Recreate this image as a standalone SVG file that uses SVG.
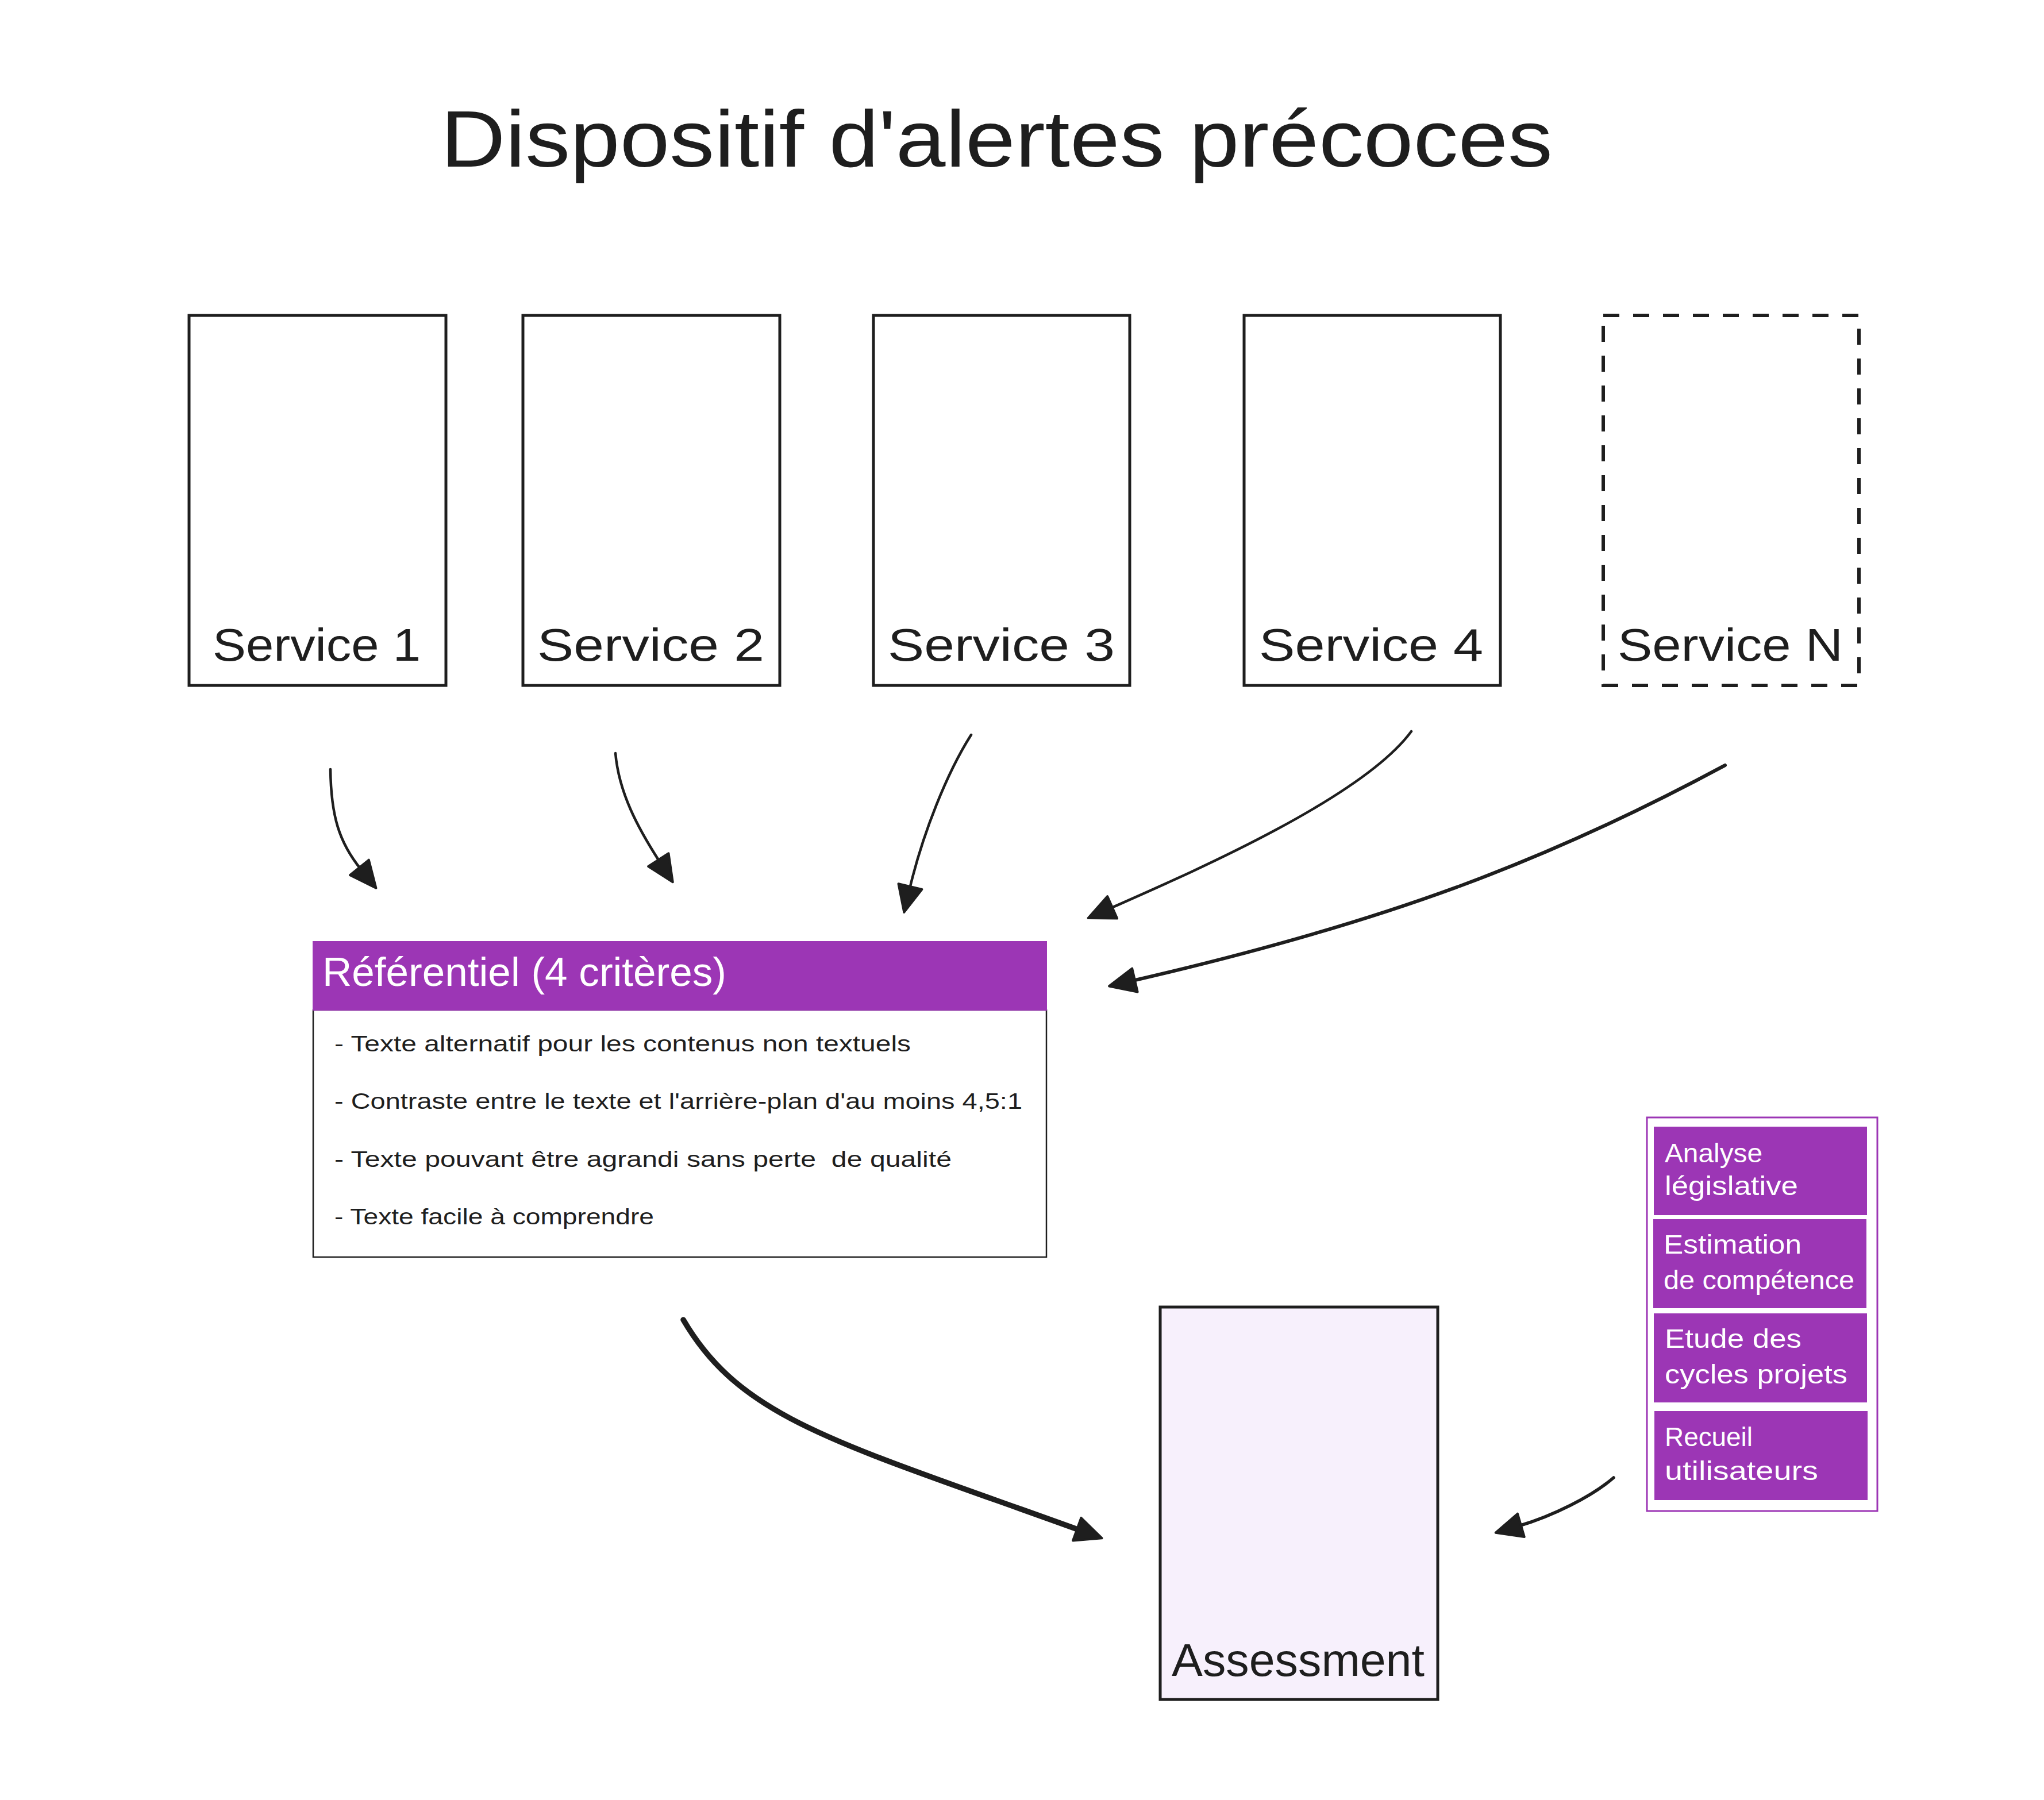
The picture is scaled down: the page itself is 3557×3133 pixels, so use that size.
<svg xmlns="http://www.w3.org/2000/svg" width="3557" height="3133" viewBox="0 0 3557 3133">
<style>
  text { font-family: "Liberation Sans", "DejaVu Sans", sans-serif; }
  .title { font-size: 140px; fill: #1e1e1e; }
  .svc { fill: #ffffff; stroke: #1e1e1e; stroke-width: 5; }
  .svc-dash { fill: #ffffff; stroke: #1e1e1e; stroke-width: 6; stroke-dasharray: 28 24; }
  .svc-label { font-size: 80px; fill: #1e1e1e; }
  .hdr { fill: #9c36b5; }
  .hdr-text { font-size: 70px; fill: #ffffff; }
  .body { fill: #ffffff; stroke: #1e1e1e; stroke-width: 2.5; }
  .item { font-size: 38px; fill: #1e1e1e; }
  .panel { fill: #ffffff; stroke: #9c36b5; stroke-width: 3; }
  .chip { fill: #9c36b5; stroke: #9c36b5; stroke-width: 2; }
  .chip-text { font-size: 47px; fill: #ffffff; }
  .assess { fill: #f7f0fc; stroke: #1e1e1e; stroke-width: 5; }
  .assess-label { font-size: 80px; fill: #1e1e1e; }
  .conn { fill: none; stroke: #1e1e1e; stroke-linecap: round; marker-end: url(#head); }
</style>
<defs>
  <marker id="head" markerUnits="userSpaceOnUse" viewBox="-4 -4 54 50" markerWidth="54" markerHeight="50" refX="4" refY="21" orient="auto">
    <path d="M0,0 L46,21 L0,42 Z" fill="#1e1e1e" stroke="#1e1e1e" stroke-width="4" stroke-linejoin="round"/>
  </marker>
</defs>
<rect x="0" y="0" width="3557" height="3133" fill="#ffffff"/>

<g id="title">
  <text class="title" x="767" y="290" textLength="1935" lengthAdjust="spacingAndGlyphs">Dispositif d'alertes précoces</text>
</g>

<g id="service-1">
  <rect class="svc" x="329" y="549" width="447" height="644"/>
  <text class="svc-label" x="370" y="1150" textLength="362" lengthAdjust="spacingAndGlyphs">Service 1</text>
</g>
<g id="service-2">
  <rect class="svc" x="910" y="549" width="447" height="644"/>
  <text class="svc-label" x="935" y="1150" textLength="395" lengthAdjust="spacingAndGlyphs">Service 2</text>
</g>
<g id="service-3">
  <rect class="svc" x="1520" y="549" width="446" height="644"/>
  <text class="svc-label" x="1545" y="1150" textLength="395" lengthAdjust="spacingAndGlyphs">Service 3</text>
</g>
<g id="service-4">
  <rect class="svc" x="2165" y="549" width="446" height="644"/>
  <text class="svc-label" x="2191" y="1150" textLength="390" lengthAdjust="spacingAndGlyphs">Service 4</text>
</g>
<g id="service-n">
  <rect class="svc-dash" x="2790" y="549" width="445" height="644"/>
  <text class="svc-label" x="2815" y="1150" textLength="392" lengthAdjust="spacingAndGlyphs">Service N</text>
</g>

<g id="referentiel">
  <rect class="body" x="545" y="1758" width="1276" height="430"/>
  <rect class="hdr" x="544" y="1638" width="1278" height="121"/>
  <text class="hdr-text" x="561" y="1716" textLength="703" lengthAdjust="spacingAndGlyphs">Référentiel (4 critères)</text>
  <text class="item" x="582" y="1830" textLength="1003" lengthAdjust="spacingAndGlyphs">- Texte alternatif pour les contenus non textuels</text>
  <text class="item" x="582" y="1930" textLength="1197" lengthAdjust="spacingAndGlyphs">- Contraste entre le texte et l'arrière-plan d'au moins 4,5:1</text>
  <text class="item" x="582" y="2031" textLength="1074" lengthAdjust="spacingAndGlyphs" xml:space="preserve">- Texte pouvant être agrandi sans perte  de qualité</text>
  <text class="item" x="582" y="2131" textLength="556" lengthAdjust="spacingAndGlyphs">- Texte facile à comprendre</text>
</g>

<g id="methodes">
  <rect class="panel" x="2866" y="1945" width="401" height="685"/>
  <g id="analyse-legislative">
    <rect class="chip" x="2879" y="1962" width="369" height="152"/>
    <text class="chip-text" x="2897" y="2023" textLength="170" lengthAdjust="spacingAndGlyphs">Analyse</text>
    <text class="chip-text" x="2897" y="2080" textLength="232" lengthAdjust="spacingAndGlyphs">législative</text>
  </g>
  <g id="estimation-competence">
    <rect class="chip" x="2878" y="2123" width="369" height="153"/>
    <text class="chip-text" x="2895" y="2182" textLength="240" lengthAdjust="spacingAndGlyphs">Estimation</text>
    <text class="chip-text" x="2895" y="2244" textLength="332" lengthAdjust="spacingAndGlyphs">de compétence</text>
  </g>
  <g id="etude-cycles">
    <rect class="chip" x="2879" y="2287" width="369" height="153"/>
    <text class="chip-text" x="2897" y="2346" textLength="238" lengthAdjust="spacingAndGlyphs">Etude des</text>
    <text class="chip-text" x="2897" y="2408" textLength="318" lengthAdjust="spacingAndGlyphs">cycles projets</text>
  </g>
  <g id="recueil-utilisateurs">
    <rect class="chip" x="2880" y="2457" width="369" height="153"/>
    <text class="chip-text" x="2897" y="2517" textLength="153" lengthAdjust="spacingAndGlyphs">Recueil</text>
    <text class="chip-text" x="2897" y="2576" textLength="267" lengthAdjust="spacingAndGlyphs">utilisateurs</text>
  </g>
</g>

<g id="assessment">
  <rect class="assess" x="2019" y="2275" width="483" height="683"/>
  <text class="assess-label" x="2039" y="2917" textLength="440" lengthAdjust="spacingAndGlyphs">Assessment</text>
</g>

<g id="connectors">
  <path class="conn" stroke-width="4.5" d="M575,1339 C576,1420 590,1466 628,1513"/>
  <path class="conn" stroke-width="4.5" d="M1071,1311 C1077,1380 1110,1441 1148,1500"/>
  <path class="conn" stroke-width="4.5" d="M1690,1279 C1648,1345 1606,1450 1583,1547"/>
  <path class="conn" stroke-width="4.5" d="M2456,1273 C2370,1390 2070,1520 1932,1581"/>
  <path class="conn" stroke-width="6" d="M3002,1332 C2690,1500 2409,1606 1971,1707"/>
  <path class="conn" stroke-width="9.5" d="M1189,2297 C1290,2470 1455,2510 1878,2663"/>
  <path class="conn" stroke-width="5.5" d="M2808,2572 C2770,2605 2701,2639 2643,2656"/>
</g>
</svg>
